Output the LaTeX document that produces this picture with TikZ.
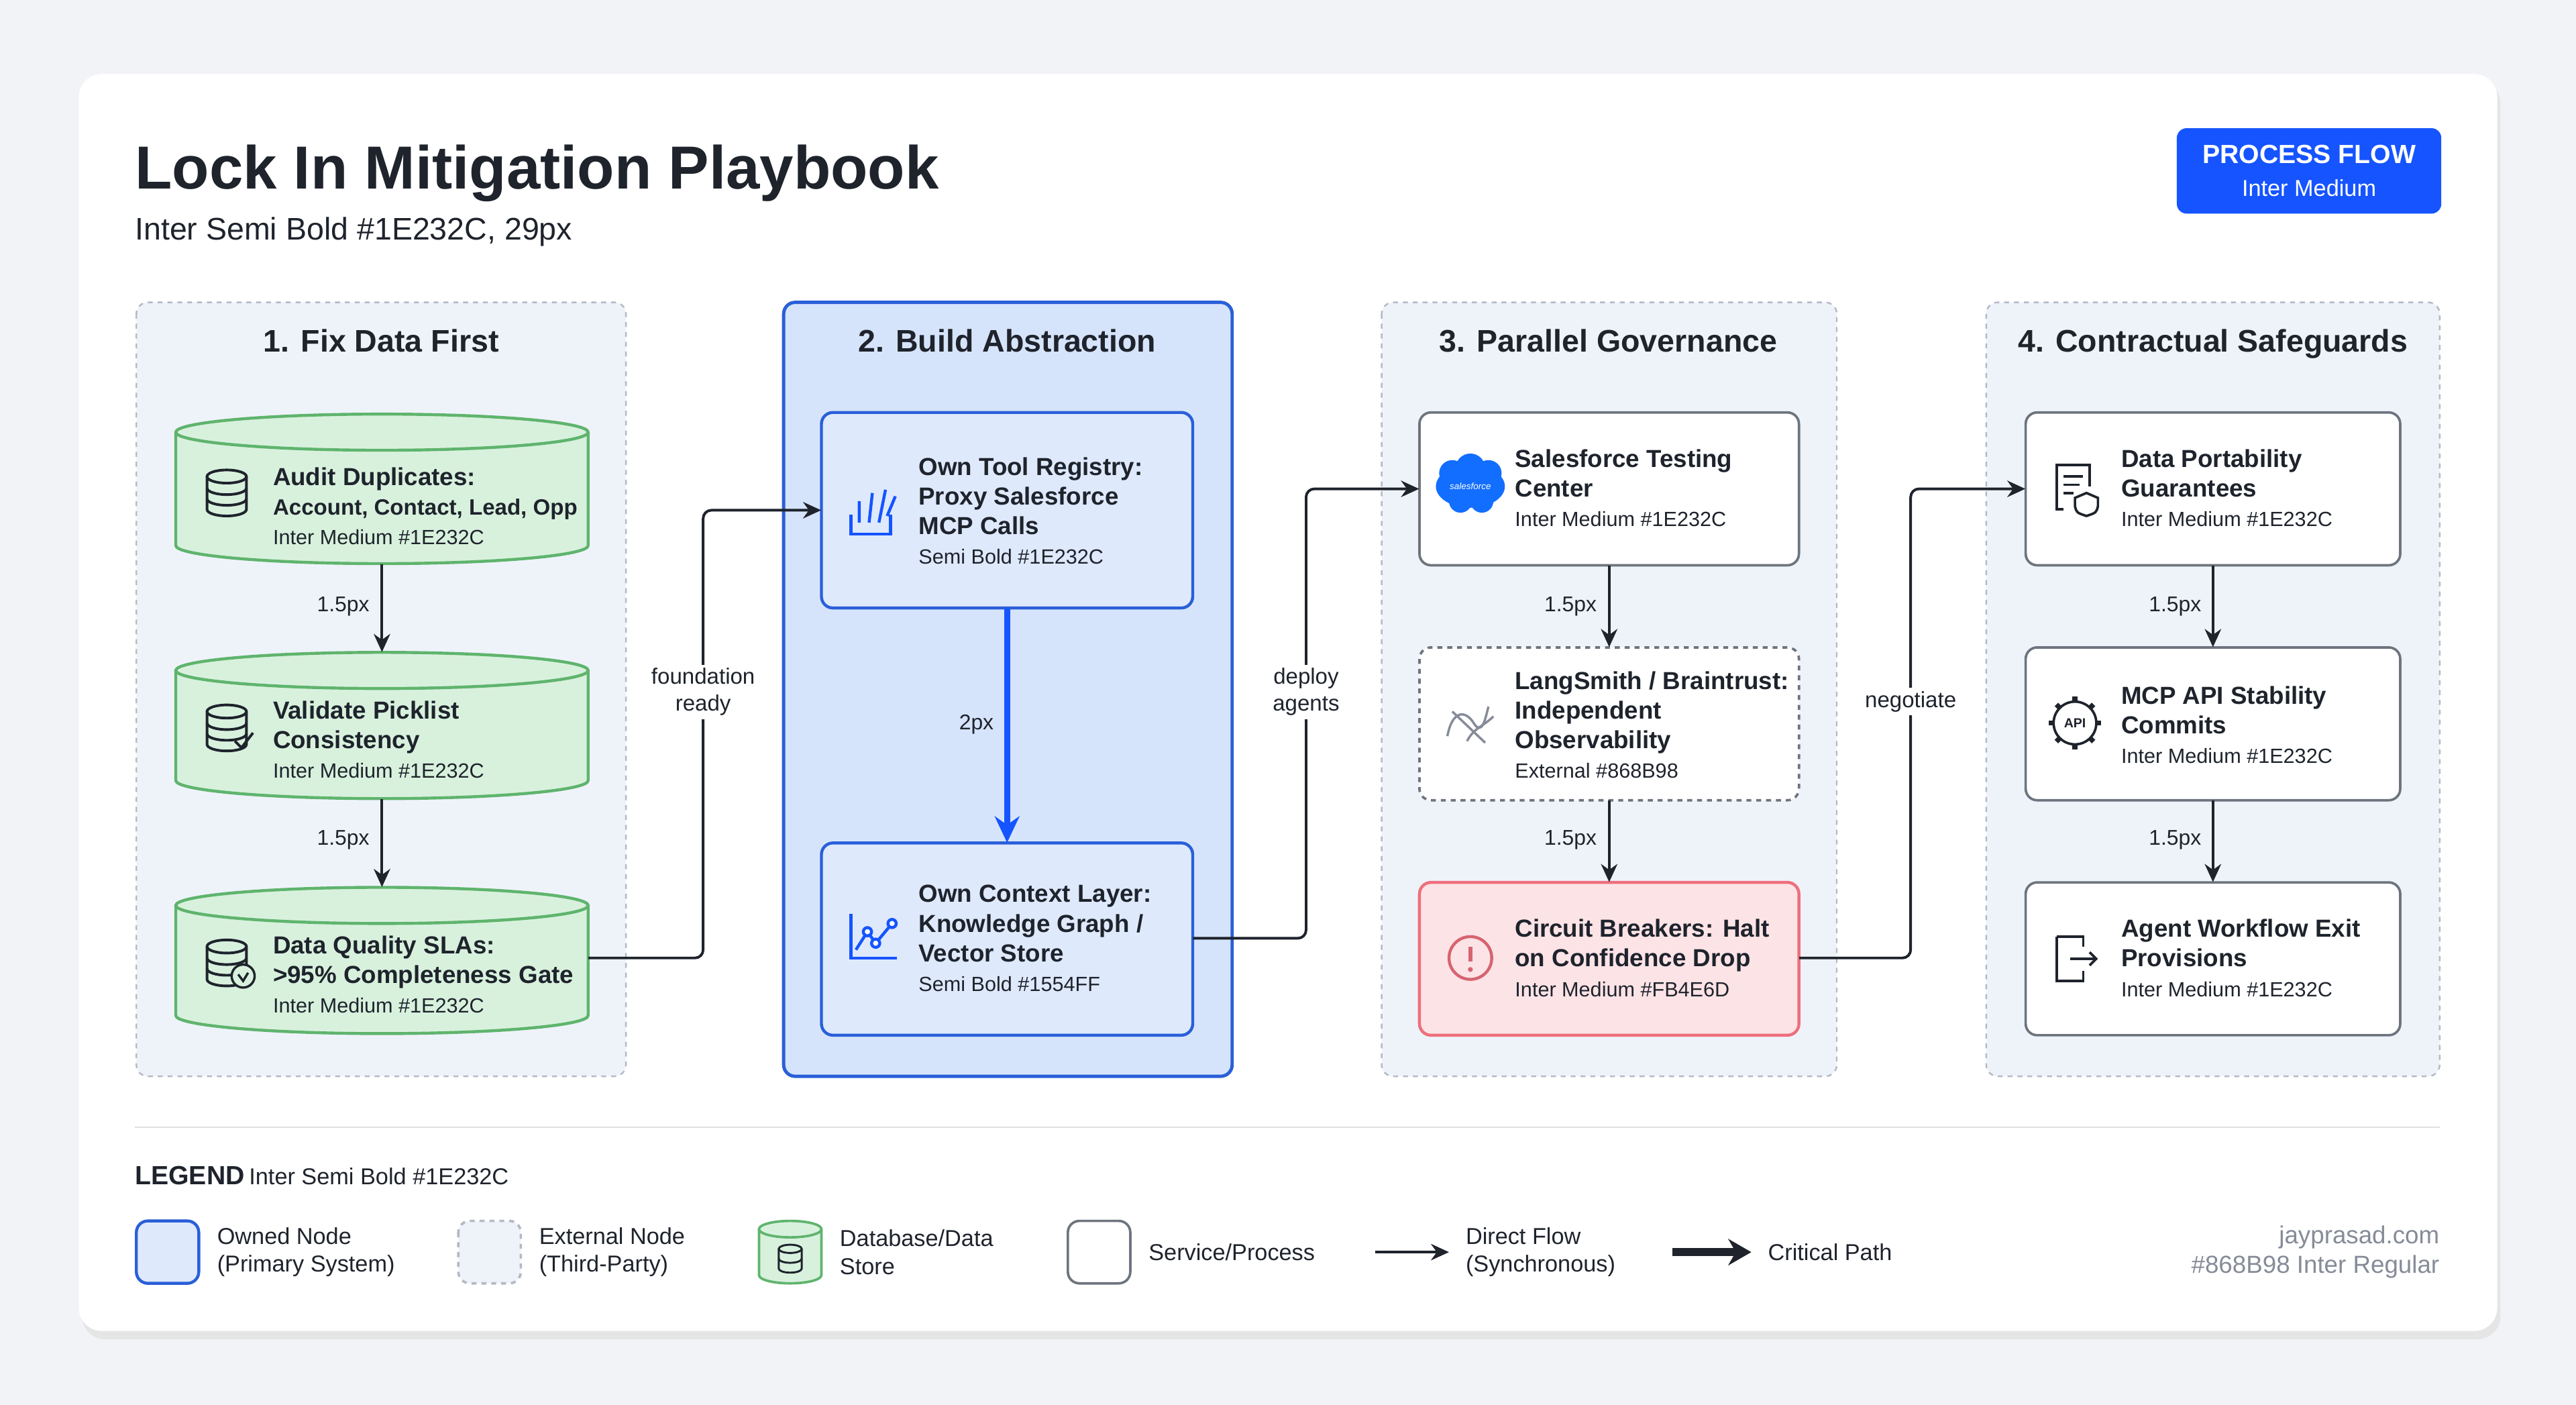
\documentclass[tikz,border=0pt]{standalone}
\usepackage{fontspec}
\setmainfont{Liberation Sans}
\usetikzlibrary{arrows.meta,shadows,calc}
\definecolor{ink}{HTML}{1E232C}
\definecolor{mute}{HTML}{868B98}
\definecolor{blu}{HTML}{1554FF}
\definecolor{bgc}{HTML}{F1F3F6}
\definecolor{lanefill}{HTML}{EEF3FA}
\definecolor{lanedraw}{HTML}{B4BAC4}
\definecolor{ownfill}{HTML}{D6E4FB}
\definecolor{owndraw}{HTML}{2A5FD8}
\definecolor{dbfill}{HTML}{D8F1DD}
\definecolor{dbdraw}{HTML}{5FB46D}
\definecolor{svcdraw}{HTML}{6E747E}
\definecolor{redfill}{HTML}{FCE3E6}
\definecolor{reddraw}{HTML}{EE6F7C}
\tikzset{
 x=1pt,y=-1pt,
 lane/.style={draw=lanedraw,dashed,line width=1,fill=lanefill,rounded corners=7},
 ownlane/.style={draw=owndraw,line width=2,fill=ownfill,rounded corners=7},
 lanetitle/.style={font=\bfseries\fontsize{19}{22}\selectfont,text=ink,anchor=base},
 own/.style={draw=owndraw,line width=1.8,fill=ownfill!80!white,rounded corners=7},
 svc/.style={draw=svcdraw,line width=1.5,fill=white,rounded corners=7},
 ext/.style={draw=svcdraw,line width=1.5,dashed,fill=white,rounded corners=7},
 red/.style={draw=reddraw,line width=1.8,fill=redfill,rounded corners=7},
 txt/.style={align=left,anchor=west,text=ink,inner sep=0,font=\fontsize{15}{18}\selectfont},
 flow/.style={draw=ink,line width=1.6,-{Stealth[length=11,width=10]},rounded corners=5},
 crit/.style={draw=blu,line width=3.5,-{Stealth[length=16,width=15]}},
 lab/.style={font=\fontsize{13}{16}\selectfont,text=ink,align=center,fill=lanefill,inner sep=2},
 labw/.style={font=\fontsize{13.5}{16.5}\selectfont,text=ink,align=center,fill=white,inner sep=2},
}
\newcommand{\ttl}{\bfseries\fontsize{15}{18}\selectfont}
\newcommand{\sub}{\fontsize{12.5}{18}\selectfont}
\newcommand{\cylnode}[5]{% name, x1,y1,x2,y2
 \node[minimum width=#4-#2,minimum height=#5-#3,inner sep=0] (#1) at ({(#2+#4)/2},{(#3+#5)/2}) {};
 \draw[dbdraw,line width=1.8,fill=dbfill] (#2,#3+11) -- (#2,#5-11) arc[start angle=180,end angle=0,x radius={(#4-#2)/2},y radius=11] -- (#4,#3+11);
 \draw[dbdraw,line width=1.8,fill=dbfill] ({(#2+#4)/2},#3+11) ellipse[x radius={(#4-#2)/2},y radius=11];
}
\newcommand{\dbicon}[2]{% x,y center
 \begin{scope}[shift={(#1,#2)},draw=ink,line width=1.6]
  \draw (0,-10) ellipse[x radius=12,y radius=4];
  \draw (-12,-10) -- (-12,10) arc[start angle=180,end angle=0,x radius=12,y radius=4] -- (12,-10);
  \draw (-12,-3) arc[start angle=180,end angle=0,x radius=12,y radius=4];
  \draw (-12,3.5) arc[start angle=180,end angle=0,x radius=12,y radius=4];
 \end{scope}}
\begin{document}
\begin{tikzpicture}
\useasboundingbox (0,0) rectangle (1568,855);
\fill[bgc] (0,0) rectangle (1568,855);
\fill[black!10,rounded corners=14] (50,49) rectangle (1522,815);
\fill[white,rounded corners=14] (48,45) rectangle (1520,810);

\node[anchor=base west,text=ink,font=\bfseries\fontsize{37}{40}\selectfont,inner sep=0] (title) at (82,115) {Lock In Mitigation Playbook};
\node[anchor=base west,text=ink,font=\fontsize{19}{22}\selectfont,inner sep=0] (subtitle) at (82,146) {Inter Semi Bold \#1E232C, 29px};
\node[fill=blu,rounded corners=6,minimum width=161,minimum height=52,align=center,text=white,inner sep=0,font=\fontsize{16}{20}\selectfont] (badge) at (1405.5,104)
 {{\bfseries PROCESS FLOW}\\{\fontsize{14}{20}\selectfont Inter Medium}};

% lanes
\draw[lane] (83,184) rectangle (381,655);
\draw[ownlane] (477,184) rectangle (750,655);
\draw[lane] (841,184) rectangle (1118,655);
\draw[lane] (1209,184) rectangle (1485,655);
\node[lanetitle] (l1) at (232,214) {1. Fix Data First};
\node[lanetitle] (l2) at (613,214) {2. Build Abstraction};
\node[lanetitle] (l3) at (979,214) {3. Parallel Governance};
\node[lanetitle] (l4) at (1347,214) {4. Contractual Safeguards};

% lane 1
\cylnode{c1}{107}{252}{358}{343}
\cylnode{c2}{107}{397}{358}{486}
\cylnode{c3}{107}{540}{358}{629}
\dbicon{138}{300}
\dbicon{138}{443}
\draw[ink,line width=1.6] (143,451) -- (147,455) -- (154,446);
\dbicon{138}{586}
\draw[ink,line width=1.4,fill=dbfill] (148,594) circle (7);
\draw[ink,line width=1.4] (145,593) -- (148,597) -- (151,592);
\node[txt] (t1) at (166,308) {{\ttl Audit Duplicates:}\\{\bfseries\fontsize{13.5}{18}\selectfont Account, Contact, Lead, Opp}\\{\sub Inter Medium \#1E232C}};
\node[txt] (t2) at (166,450) {{\ttl Validate Picklist}\\{\ttl Consistency}\\{\sub Inter Medium \#1E232C}};
\node[txt] (t3) at (166,593) {{\ttl Data Quality SLAs:}\\{\ttl >95\% Completeness Gate}\\{\sub Inter Medium \#1E232C}};

% lane 2
\draw[own] (500,251) rectangle (726,370); \node[minimum width=226,minimum height=119] (b1) at (613,310.5) {};
\draw[own] (500,513) rectangle (726,630); \node[minimum width=226,minimum height=117] (b2) at (613,571.5) {};
\begin{scope}[draw=blu,line width=1.8]
 \draw (518,313) -- (518,325) -- (542,325) -- (542,313);
 \draw (523,318) -- (523,305) (529,318) -- (531,300) (535,318) -- (539,298) (540,314) -- (545,302);
 \draw (518,556) -- (518,583) -- (546,583);
 \draw (521,578) -- (528,567) -- (533,574) -- (543,562);
 \fill[white] (528,567) circle(2.5) (533,574) circle(2.5) (543,562) circle(2.5);
 \draw (528,567) circle(2.5) (533,574) circle(2.5) (543,562) circle(2.5);
\end{scope}
\node[txt] (t4) at (559,311) {{\ttl Own Tool Registry:}\\{\ttl Proxy Salesforce}\\{\ttl MCP Calls}\\{\sub Semi Bold \#1E232C}};
\node[txt] (t5) at (559,571) {{\ttl Own Context Layer:}\\{\ttl Knowledge Graph /}\\{\ttl Vector Store}\\{\sub Semi Bold \#1554FF}};

% lane 3
\draw[svc] (864,251) rectangle (1095,344); \node[minimum width=231,minimum height=93] (s1) at (979.5,297.5) {};
\draw[ext] (864,394) rectangle (1095,487); \node[minimum width=231,minimum height=93] (s2) at (979.5,440.5) {};
\draw[red] (864,537) rectangle (1095,630); \node[minimum width=231,minimum height=93] (s3) at (979.5,583.5) {};
\fill[blu!85!cyan] (895,296) ellipse[x radius=21,y radius=13];
\fill[blu!85!cyan] (884,288) circle(8) (895,285) circle(9) (906,288) circle(8) (889,305) circle(7) (902,305) circle(7);
\node[text=white,font=\itshape\fontsize{5.5}{6}\selectfont] (sflogo) at (895,296) {salesforce};
\begin{scope}[draw=mute,line width=1.4]
 \draw (881,448) .. controls (884,432) and (892,432) .. (897,440) .. controls (902,448) and (904,438) .. (906,430);
 \draw (884,433) -- (904,452);
 \draw (893,451) .. controls (897,443) and (903,442) .. (909,436);
\end{scope}
\draw[reddraw!90!black,line width=1.8] (895,583) circle(13);
\draw[reddraw!90!black,line width=2.2] (895,576) -- (895,585);
\fill[reddraw!90!black] (895,590) circle(1.5);
\node[txt] (t6) at (922,297) {{\ttl Salesforce Testing}\\{\ttl Center}\\{\sub Inter Medium \#1E232C}};
\node[txt] (t7) at (922,441) {{\ttl LangSmith / Braintrust:}\\{\ttl Independent}\\{\ttl Observability}\\{\sub External \#868B98}};
\node[txt] (t8) at (922,583) {{\ttl Circuit Breakers: Halt}\\{\ttl on Confidence Drop}\\{\sub Inter Medium \#FB4E6D}};

% lane 4
\draw[svc] (1233,251) rectangle (1461,344); \node[minimum width=228,minimum height=93] (p1) at (1347,297.5) {};
\draw[svc] (1233,394) rectangle (1461,487); \node[minimum width=228,minimum height=93] (p2) at (1347,440.5) {};
\draw[svc] (1233,537) rectangle (1461,630); \node[minimum width=228,minimum height=93] (p3) at (1347,583.5) {};
\begin{scope}[draw=ink,line width=1.5]
 \draw (1256,310) -- (1252,310) -- (1252,283) -- (1272,283) -- (1272,296);
 \draw (1256,290) -- (1268,290) (1256,295) -- (1266,295) (1256,300) -- (1262,300);
 \draw (1270,300) -- (1277,303) -- (1277,308) .. controls (1276,312) .. (1270,314) .. controls (1264,312) .. (1263,308) -- (1263,303) -- cycle;
 \draw (1263,440) circle (13);
 \foreach \a in {0,45,...,315} \draw[line width=3] (1263,440) ++(\a:13) -- ++(\a:3);
 \draw (1252,570) -- (1252,597) -- (1268,597) -- (1268,591);
 \draw (1268,576) -- (1268,570) -- (1252,570);
 \draw[-{Straight Barb[length=4,width=8]}] (1260,583.5) -- (1277,583.5);
\end{scope}
\fill[white] (1263,440) circle(11);
\node[text=ink,font=\bfseries\fontsize{8}{9}\selectfont] (api) at (1263,440) {API};
\node[txt] (t9) at (1291,297) {{\ttl Data Portability}\\{\ttl Guarantees}\\{\sub Inter Medium \#1E232C}};
\node[txt] (t10) at (1291,441) {{\ttl MCP API Stability}\\{\ttl Commits}\\{\sub Inter Medium \#1E232C}};
\node[txt] (t11) at (1291,583) {{\ttl Agent Workflow Exit}\\{\ttl Provisions}\\{\sub Inter Medium \#1E232C}};

% vertical flows
\draw[flow] (c1.south) -- (c2.north);
\draw[flow] (c2.south) -- (c3.north);
\draw[flow] (s1.south) -- (s2.north);
\draw[flow] (s2.south) -- (s3.north);
\draw[flow] (p1.south) -- (p2.north);
\draw[flow] (p2.south) -- (p3.north);
\draw[crit] (b1.south) -- (b2.north);
\node[lab,anchor=east] (v1) at (227,369) {1.5px};
\node[lab,anchor=east] (v2) at (227,511) {1.5px};
\node[lab,anchor=east] (v3) at (974,369) {1.5px};
\node[lab,anchor=east] (v4) at (974,511) {1.5px};
\node[lab,anchor=east] (v5) at (1342,369) {1.5px};
\node[lab,anchor=east] (v6) at (1342,511) {1.5px};
\node[lab,fill=ownfill,anchor=east] (v7) at (607,441) {2px};

% cross-lane flows
\coordinate (k1) at (428,583);
\coordinate (k2) at (795,571);
\coordinate (k3) at (1163,583);
\draw[flow] (c3.east |- k1) -- (k1) -- (k1 |- b1.west) -- (b1.west);
\draw[flow] (b2.east |- k2) -- (k2) -- (k2 |- s1.west) -- (s1.west);
\draw[flow] (s3.east |- k3) -- (k3) -- (k3 |- p1.west) -- (p1.west);
\node[labw] (x1) at (428,421) {foundation\\ready};
\node[labw] (x2) at (795,421) {deploy\\agents};
\node[labw] (x3) at (1163,427) {negotiate};

% legend
\draw[black!12,line width=1] (82,686) -- (1485,686);
\node[anchor=base west,inner sep=0,text=ink] (leg) at (82,721) {{\bfseries\fontsize{16}{19}\selectfont LEGEND}\ {\fontsize{14}{17}\selectfont Inter Semi Bold \#1E232C}};
\tikzset{ltxt/.style={txt,font=\fontsize{14}{17}\selectfont}}
\draw[own] (83,743) rectangle (121,781); \node[ltxt] (g1) at (132,762) {Owned Node\\(Primary System)};
\draw[ext,draw=lanedraw,fill=lanefill] (279,743) rectangle (317,781); \node[ltxt] (g2) at (328,762) {External Node\\(Third-Party)};
\draw[dbdraw,line width=1.5,fill=dbfill] (462,748) -- (462,776) arc[start angle=180,end angle=0,x radius=19,y radius=5] -- (500,748);
\draw[dbdraw,line width=1.5,fill=dbfill] (481,748) ellipse[x radius=19,y radius=5];
\begin{scope}[shift={(481,766)},draw=ink,line width=1.2]
 \draw (0,-6) ellipse[x radius=7,y radius=2.5];
 \draw (-7,-6) -- (-7,6) arc[start angle=180,end angle=0,x radius=7,y radius=2.5] -- (7,-6);
 \draw (-7,0) arc[start angle=180,end angle=0,x radius=7,y radius=2.5];
\end{scope}
\node[ltxt] (g3) at (511,762) {Database/Data\\Store};
\draw[svc] (650,743) rectangle (688,781); \node[ltxt] (g4) at (699,762) {Service/Process};
\coordinate (a1) at (837,762); \coordinate (a2) at (882,762);
\draw[flow] (a1) -- (a2); \node[ltxt] (g5) at (892,762) {Direct Flow\\(Synchronous)};
\coordinate (a3) at (1018,762); \coordinate (a4) at (1066,762);
\draw[draw=ink,line width=5,-{Stealth[length=14,width=16]}] (a3) -- (a4); \node[ltxt] (g6) at (1076,762) {Critical Path};
\node[anchor=east,align=right,inner sep=0,text=mute,font=\fontsize{15}{18}\selectfont] (brand) at (1485,762) {jayprasad.com\\\#868B98 Inter Regular};
\end{tikzpicture}
\end{document}
